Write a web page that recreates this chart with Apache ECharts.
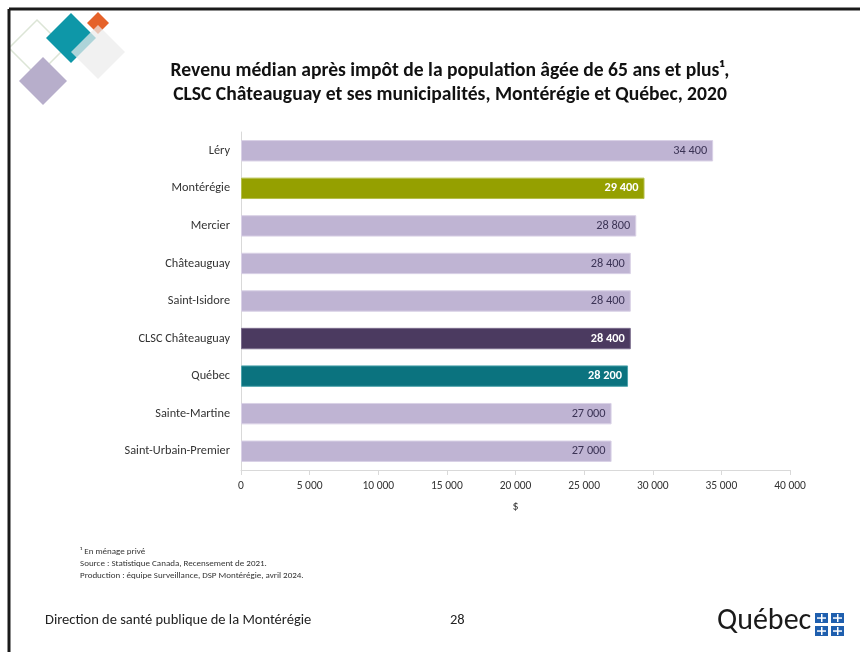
<!DOCTYPE html>
<html><head><meta charset="utf-8">
<script src="https://cdn.jsdelivr.net/npm/echarts@6/dist/echarts.min.js"></script>
<style>html,body{margin:0;padding:0;background:#fff}#c{width:860px;height:652px}</style>
</head><body><div id="c"></div>
<script>
const categories = ['Léry','Montérégie','Mercier','Châteauguay','Saint-Isidore','CLSC Châteauguay','Québec','Sainte-Martine','Saint-Urbain-Premier'];
const values = [34400, 29400, 28800, 28400, 28400, 28400, 28200, 27000, 27000];
const xTicks = [0, 5000, 10000, 15000, 20000, 25000, 30000, 35000, 40000];
const titleLines = ['Revenu médian après impôt de la population âgée de 65 ans et plus¹,', 'CLSC Châteauguay et ses municipalités, Montérégie et Québec, 2020'];
const notes = ['¹ En ménage privé', 'Source : Statistique Canada, Recensement de 2021.', 'Production : équipe Surveillance, DSP Montérégie, avril 2024.'];

const FONT = 'Carlito, Lato, sans-serif';
const highlight = {
  'Montérégie': {bar:'#95A000', border:'#B4BE4A', label:'#ffffff'},
  'CLSC Châteauguay': {bar:'#4B3A60', border:'#7A6C8C', label:'#ffffff'},
  'Québec': {bar:'#0B737F', border:'#4DA2AB', label:'#ffffff'}
};
const base = {bar:'#BFB4D3', border:'#D9D1E6', label:'#3B3355'};
const fmt = v => String(v).replace(/\B(?=(\d{3})+(?!\d))/g, ' ');

const chart = echarts.init(document.getElementById('c'), null, {renderer:'canvas'});

function diamond(cx, cy, r, style, z) {
  return {type:'polygon', shape:{points:[[cx,cy-r],[cx+r,cy],[cx,cy+r],[cx-r,cy]]}, style, z};
}

const graphics = [
  // frame
  {type:'line', shape:{x1:9, y1:9, x2:860, y2:9}, style:{stroke:'#1a1a1a', lineWidth:3}, z:10},
  {type:'line', shape:{x1:9, y1:9, x2:9, y2:652}, style:{stroke:'#1a1a1a', lineWidth:3}, z:10},
  // decorative diamonds
  diamond(37, 48, 28, {fill:'none', stroke:'#DCE5D6', lineWidth:1.5}, 1),
  diamond(43, 81, 24, {fill:'#B7AECB'}, 2),
  diamond(71, 38, 25, {fill:'#0E97A8'}, 3),
  diamond(98, 23, 11, {fill:'#E5622A'}, 4),
  diamond(98, 52, 27, {fill:'rgba(236,236,236,0.72)'}, 5),
  // footnotes
  ...notes.map((t,i)=>({type:'text', left:80, top:547 + i*12, style:{text:t, font:'9px '+FONT, fill:'#333'}})),
  // footer
  {type:'text', left:45, top:613, style:{text:'Direction de santé publique de la Montérégie', font:'14.5px '+FONT, fill:'#222'}},
  {type:'text', left:450, top:613, style:{text:'28', font:'14.5px '+FONT, fill:'#222'}},
  {type:'text', left:717, top:606, style:{text:'Québec', font:'30px '+FONT, fill:'#1a1a1a'}},
];
// Quebec flag squares
[[815,613],[831,613],[815,626],[831,626]].forEach(([x,y])=>{
  graphics.push({type:'rect', shape:{x, y, width:13, height:10}, style:{fill:'#1F5FAE'}});
  graphics.push({type:'rect', shape:{x:x+6, y:y+1, width:1.5, height:8}, style:{fill:'#fff'}});
  graphics.push({type:'rect', shape:{x:x+2, y:y+4.3, width:9, height:1.5}, style:{fill:'#fff'}});
});

chart.setOption({
  animation:false,
  backgroundColor:'#ffffff',
  title:{
    text: titleLines.join('\n'),
    left: 445, top: 54, textAlign:'center',
    textStyle:{fontFamily:FONT, fontWeight:'bold', fontSize:19.6, color:'#111', lineHeight:24}
  },
  grid:{left:241, right:70, top:132, bottom:182, containLabel:false},
  xAxis:{
    type:'value', min:0, max:40000, interval:5000,
    name:'$', nameLocation:'middle', nameGap:31,
    nameTextStyle:{fontFamily:FONT, fontSize:12, color:'#333'},
    axisLine:{show:true, lineStyle:{color:'#D9D9D9'}},
    axisTick:{show:true, length:5, lineStyle:{color:'#D9D9D9'}},
    axisLabel:{fontFamily:FONT, fontSize:11.5, color:'#333', margin:10, formatter:v=>fmt(v)},
    splitLine:{show:false}
  },
  yAxis:{
    type:'category', data:categories, inverse:true,
    axisLine:{show:true, lineStyle:{color:'#D9D9D9'}},
    axisTick:{show:false},
    axisLabel:{fontFamily:FONT, fontSize:12.3, color:'#333', margin:11}
  },
  series:[{
    type:'bar', barWidth:'57%',
    data: values.map((v,i)=>{
      const s = highlight[categories[i]] || base;
      return {value:v, itemStyle:{color:s.bar, borderColor:s.border, borderWidth:1},
        label:{color:s.label, fontWeight: highlight[categories[i]] ? 'bold':'normal'}};
    }),
    label:{show:true, position:'insideRight', distance:6, fontFamily:FONT, fontSize:12.3, formatter:p=>fmt(p.value)}
  }],
  graphic: graphics
});
</script></body></html>
